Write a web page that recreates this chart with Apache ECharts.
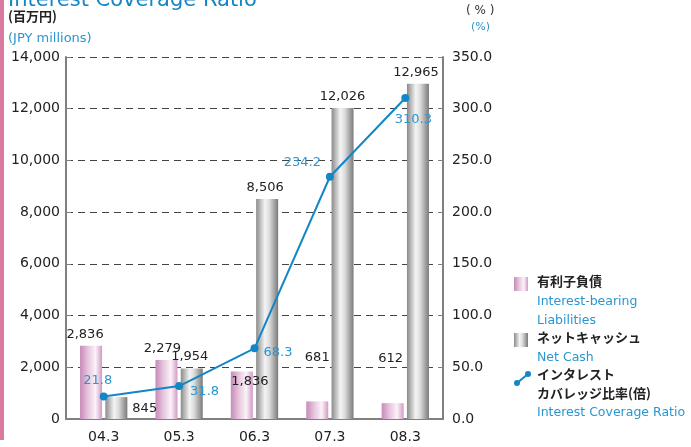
<!DOCTYPE html>
<html lang="ja">
<head>
    <meta charset="UTF-8">
    <title>Interest Coverage Ratio</title>
    <script src="https://cdn.jsdelivr.net/npm/echarts@6/dist/echarts.min.js"></script>
</head>
<body style="margin:0;background:#fff">
<div id="container" style="width:691px;height:447px"></div>
<script type="text/javascript">
    // 決算期
    let categories = ['04.3', '05.3', '06.3', '07.3', '08.3'];
    // 有利子負債 (百万円)
    let debt = [2836, 2279, 1836, 681, 612];
    // ネットキャッシュ (百万円)
    let netCash = [845, 1954, 8506, 12026, 12965];
    // インタレスト・カバレッジ比率
    let coverage = [21.8, 31.8, 68.3, 234.2, 310.3];

    let blue = '#1386c6';
    let lightBlue = '#2a96d0';
    let font = '"DejaVu Sans", "Noto Sans CJK JP", sans-serif';
    let jpFont = '"Noto Sans CJK JP", sans-serif';

    // ラベル位置の調整
    let debtLabel = [
        {position: 'top', offset: [-6, 0]},
        {position: 'top', offset: [-4, 0]},
        {position: 'top', offset: [8, 22]},
        {position: 'top', offset: [0, -32]},
        {position: 'top', offset: [-2, -33]}
    ];
    let cashLabel = [
        {position: 'right', offset: [0, 1]},
        {position: 'top', offset: [-2, 0]},
        {position: 'top', offset: [-2, 0]},
        {position: 'top', offset: [0, 0]},
        {position: 'top', offset: [-2, 0]}
    ];
    let lineLabel = [
        {position: 'top', offset: [-6, 0]},
        {position: 'right', offset: [2, 6]},
        {position: 'right', offset: [0, 4]},
        {position: 'left', offset: [0, -14]},
        {position: 'bottom', offset: [8, 6]}
    ];

    let pink = {
        type: 'linear', x: 0, y: 0, x2: 1, y2: 0,
        colorStops: [
            {offset: 0, color: '#c68ab9'},
            {offset: 0.35, color: '#e6c3dd'},
            {offset: 0.7, color: '#fbf3f8'},
            {offset: 1, color: '#d09ac4'}
        ]
    };
    let gray = {
        type: 'linear', x: 0, y: 0, x2: 1, y2: 0,
        colorStops: [
            {offset: 0, color: '#8a8a8a'},
            {offset: 0.4, color: '#f4f4f4'},
            {offset: 0.6, color: '#dcdcdc'},
            {offset: 1, color: '#7a7a7a'}
        ]
    };

    let fmt = function (p) {
        return p.value.toLocaleString('en-US');
    };

    let myChart = echarts.init(document.getElementById('container'));
    let option = {
        animation: false,
        textStyle: {fontFamily: font},
        grid: {left: 66, right: 248, top: 57, bottom: 28},
        xAxis: {
            type: 'category',
            data: categories,
            axisLine: {lineStyle: {color: '#808080', width: 2}},
            axisTick: {show: false},
            axisLabel: {color: '#222', fontSize: 14, margin: 11}
        },
        yAxis: [
            {
                type: 'value',
                min: 0, max: 14000, interval: 2000,
                axisLine: {show: true, lineStyle: {color: '#808080', width: 2}},
                axisTick: {show: true, inside: true, length: 5, lineStyle: {color: '#808080'}},
                axisLabel: {
                    color: '#222', fontSize: 14, margin: 6,
                    formatter: function (v) { return v.toLocaleString('en-US'); }
                },
                splitLine: {lineStyle: {color: '#444', type: [7, 5], width: 1}}
            },
            {
                type: 'value',
                min: 0, max: 350, interval: 50,
                axisLine: {show: true, lineStyle: {color: '#808080', width: 2}},
                axisTick: {show: true, inside: true, length: 5, lineStyle: {color: '#808080'}},
                axisLabel: {
                    color: '#222', fontSize: 14, margin: 9,
                    formatter: function (v) { return v.toFixed(1); }
                },
                splitLine: {show: false}
            }
        ],
        series: [
            {
                name: '有利子負債',
                type: 'bar',
                barWidth: 22,
                barGap: '15%',
                itemStyle: {color: pink},
                data: debt.map(function (v, i) {
                    return {value: v, label: debtLabel[i]};
                }),
                label: {show: true, color: '#222', fontSize: 13, formatter: fmt}
            },
            {
                name: 'ネットキャッシュ',
                type: 'bar',
                barWidth: 22,
                itemStyle: {color: gray},
                data: netCash.map(function (v, i) {
                    return {value: v, label: cashLabel[i]};
                }),
                label: {show: true, color: '#222', fontSize: 13, formatter: fmt}
            },
            {
                name: 'インタレスト・カバレッジ比率',
                type: 'line',
                yAxisIndex: 1,
                z: 5,
                symbol: 'circle',
                symbolSize: 8,
                lineStyle: {color: blue, width: 2},
                itemStyle: {color: blue},
                data: coverage.map(function (v, i) {
                    return {value: v, label: lineLabel[i]};
                }),
                label: {
                    show: true, color: lightBlue, fontSize: 13,
                    formatter: function (p) { return p.value.toFixed(1); }
                }
            }
        ],
        graphic: [
            {type: 'rect', shape: {x: 0, y: 0, width: 4, height: 440}, style: {fill: '#d9799f'}},
            {type: 'text', left: 8, top: -10, style: {text: 'Interest Coverage Ratio', fill: blue, font: '21px ' + font}},
            {type: 'text', left: 8, top: 10, style: {text: '(百万円)', fill: '#222', font: 'bold 13px ' + jpFont}},
            {type: 'text', left: 8, top: 32, style: {text: '(JPY millions)', fill: lightBlue, font: '13px ' + font}},
            {type: 'text', left: 466, top: 5, style: {text: '( % )', fill: '#333', font: '12px ' + font}},
            {type: 'text', left: 471, top: 22, style: {text: '(%)', fill: lightBlue, font: '11px ' + font}},
            // 凡例
            {type: 'rect', shape: {x: 514, y: 277, width: 14, height: 14}, style: {fill: pink}},
            {type: 'text', left: 537, top: 275, style: {text: '有利子負債', fill: '#222', font: 'bold 13px ' + jpFont}},
            {type: 'text', left: 537, top: 295, style: {text: 'Interest-bearing', fill: lightBlue, font: '12.5px ' + font}},
            {type: 'text', left: 537, top: 314, style: {text: 'Liabilities', fill: lightBlue, font: '12.5px ' + font}},
            {type: 'rect', shape: {x: 514, y: 333, width: 14, height: 14}, style: {fill: gray}},
            {type: 'text', left: 537, top: 331, style: {text: 'ネットキャッシュ', fill: '#222', font: 'bold 13px ' + jpFont}},
            {type: 'text', left: 537, top: 351, style: {text: 'Net Cash', fill: lightBlue, font: '12.5px ' + font}},
            {type: 'line', shape: {x1: 517, y1: 383, x2: 528, y2: 374}, style: {stroke: blue, lineWidth: 2}},
            {type: 'circle', shape: {cx: 517, cy: 383, r: 3}, style: {fill: blue}},
            {type: 'circle', shape: {cx: 528, cy: 374, r: 3}, style: {fill: blue}},
            {type: 'text', left: 537, top: 368, style: {text: 'インタレスト', fill: '#222', font: 'bold 13px ' + jpFont}},
            {type: 'text', left: 537, top: 387, style: {text: 'カバレッジ比率(倍)', fill: '#222', font: 'bold 13px ' + jpFont}},
            {type: 'text', left: 537, top: 406, style: {text: 'Interest Coverage Ratio', fill: lightBlue, font: '12.5px ' + font}}
        ]
    };
    myChart.setOption(option);
</script>
</body>
</html>
